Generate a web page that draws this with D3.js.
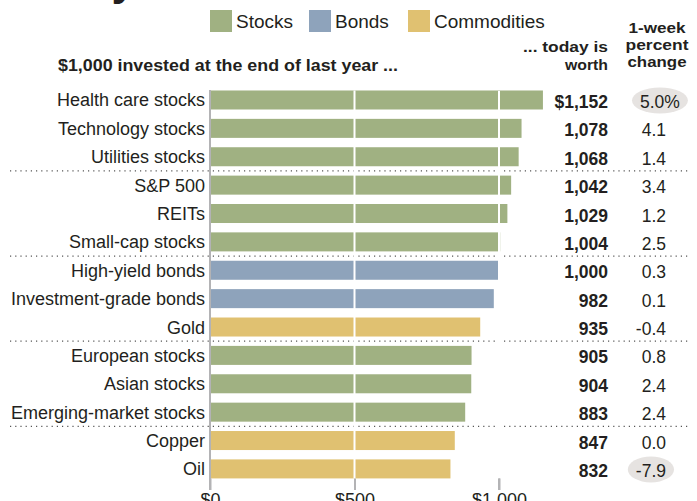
<!DOCTYPE html>
<html>
<head>
<meta charset="utf-8">
<script src="https://cdnjs.cloudflare.com/ajax/libs/d3/7.8.5/d3.min.js"></script>
<style>
  html, body { margin: 0; padding: 0; background: #fff; }
  svg { display: block; }
  text { font-family: "Liberation Sans", Arial, Helvetica, sans-serif; fill: #231f20; }
</style>
</head>
<body>
<svg id="chart" width="697" height="501"></svg>
<script>
// Growth of $1,000 by asset class
const categories = [
  "Health care stocks", "Technology stocks", "Utilities stocks",
  "S&P 500", "REITs", "Small-cap stocks",
  "High-yield bonds", "Investment-grade bonds", "Gold",
  "European stocks", "Asian stocks", "Emerging-market stocks",
  "Copper", "Oil"
];
const assetClass = [
  "Stocks", "Stocks", "Stocks",
  "Stocks", "Stocks", "Stocks",
  "Bonds", "Bonds", "Commodities",
  "Stocks", "Stocks", "Stocks",
  "Commodities", "Commodities"
];
const worth = [1152, 1078, 1068, 1042, 1029, 1004, 1000, 982, 935, 905, 904, 883, 847, 832];
const weekChange = [5.0, 4.1, 1.4, 3.4, 1.2, 2.5, 0.3, 0.1, -0.4, 0.8, 2.4, 2.4, 0.0, -7.9];
const legendItems = ["Stocks", "Bonds", "Commodities"];
const dividerAfter = ["Utilities stocks", "Small-cap stocks", "Gold", "Emerging-market stocks"];
const circled = ["Health care stocks", "Oil"];
const tickValues = [0, 500, 1000];

// plain hyphen for negative numbers
const locale = d3.formatLocale({ decimal: ".", thousands: ",", grouping: [3], currency: ["$", ""], minus: "-" });
const fmtComma = locale.format(",");
const fmtPct = locale.format(".1f");

const colors = d3.scaleOrdinal()
  .domain(legendItems)
  .range(["#a0b182", "#8ea3bb", "#e0c171"]);

const svg = d3.select("#chart");

const x = d3.scaleLinear().domain([0, 1000]).range([210, 499]);
const y = d3.scaleBand()
  .domain(categories)
  .range([85.8, 483.1])
  .paddingInner(0.33)
  .paddingOuter(0.165);

const rows = categories.map((c, i) => ({
  name: c, cls: assetClass[i], worth: worth[i], change: weekChange[i], i
}));

// Headline (runs off the top edge)
svg.append("text")
  .attr("x", 136).attr("y", -5)
  .attr("text-anchor", "end")
  .style("font-size", "44px").style("font-weight", "bold")
  .text("Rally");

// Legend
const lg = svg.append("g");
const legendX = [210, 309, 408];
legendItems.forEach((k, i) => {
  lg.append("rect")
    .attr("x", legendX[i]).attr("y", 10)
    .attr("width", 22).attr("height", 22)
    .attr("fill", colors(k));
  lg.append("text")
    .attr("x", legendX[i] + 26).attr("y", 28)
    .style("font-size", "19px")
    .text(k);
});

// Column headers
const head = svg.append("g").style("font-weight", "bold").style("font-size", "15.5px");
head.append("text").attr("x", 58).attr("y", 71)
  .style("font-size", "16.5px")
  .attr("textLength", 340).attr("lengthAdjust", "spacingAndGlyphs")
  .text("$1,000 invested at the end of last year ...");
head.append("text").attr("x", 608).attr("y", 52).attr("text-anchor", "end")
  .attr("textLength", 85).attr("lengthAdjust", "spacingAndGlyphs")
  .text("... today is");
head.append("text").attr("x", 608).attr("y", 70).attr("text-anchor", "end")
  .attr("textLength", 43).attr("lengthAdjust", "spacingAndGlyphs")
  .text("worth");
[["1-week", 33, 57], ["percent", 50, 63], ["change", 67, 59]].forEach(([t, yy, w]) => {
  head.append("text").attr("x", 657).attr("y", yy).attr("text-anchor", "middle")
    .attr("textLength", w).attr("lengthAdjust", "spacingAndGlyphs")
    .text(t);
});

// Group dividers
svg.append("g").selectAll("line")
  .data(dividerAfter)
  .join("line")
  .attr("x1", 10).attr("x2", 690)
  .attr("y1", d => y(d) + y.bandwidth() + (y.step() - y.bandwidth()) / 2)
  .attr("y2", d => y(d) + y.bandwidth() + (y.step() - y.bandwidth()) / 2)
  .attr("stroke", "#555")
  .attr("stroke-width", 1.2)
  .attr("stroke-dasharray", "1.2,4");

// Full-height reference lines at $0 and $1,000
const chartTop = 90, chartBottom = 490;
svg.append("g").selectAll("line")
  .data([0, 1000])
  .join("line")
  .attr("x1", d => x(d)).attr("x2", d => x(d))
  .attr("y1", chartTop).attr("y2", chartBottom)
  .attr("stroke", "#b3b3b5").attr("stroke-width", 2);

// Bars
svg.append("g").selectAll("rect")
  .data(rows)
  .join("rect")
  .attr("x", x(0) + 1)
  .attr("y", d => y(d.name))
  .attr("width", d => x(d.worth) - x(0) - 1)
  .attr("height", y.bandwidth())
  .attr("fill", d => colors(d.cls));

// White gridlines across the bars
const lastBarBottom = y(categories[categories.length - 1]) + y.bandwidth();
svg.append("g").selectAll("line")
  .data([500, 1000])
  .join("line")
  .attr("x1", d => x(d)).attr("x2", d => x(d))
  .attr("y1", y(categories[0])).attr("y2", lastBarBottom)
  .attr("stroke", "#fff").attr("stroke-width", 2);

// Bottom axis
const axis = d3.axisBottom(x)
  .tickValues(tickValues)
  .tickSize(chartBottom - lastBarBottom)
  .tickFormat(d => "$" + fmtComma(d));
const ax = svg.append("g")
  .attr("transform", `translate(0,${lastBarBottom})`)
  .call(axis);
ax.select(".domain").remove();
ax.selectAll(".tick line").attr("stroke", "#b3b3b5").attr("stroke-width", 2);
ax.selectAll(".tick text")
  .attr("y", 506 - lastBarBottom).attr("dy", 0)
  .style("font-size", "18px")
  .style("font-family", "'Liberation Sans', Arial, sans-serif")
  .attr("fill", "#231f20");

// Category labels
svg.append("g").selectAll("text")
  .data(rows)
  .join("text")
  .attr("x", 205)
  .attr("y", d => y(d.name) + y.bandwidth() / 2 + 6.5)
  .attr("text-anchor", "end")
  .style("font-size", "18px")
  .text(d => d.name);

// Today's worth column
svg.append("g").selectAll("text")
  .data(rows)
  .join("text")
  .attr("x", 608)
  .attr("y", d => y(d.name) + y.bandwidth() / 2 + 8)
  .attr("text-anchor", "end")
  .style("font-size", "17.5px").style("font-weight", "bold")
  .text(d => (d.i === 0 ? "$" : "") + fmtComma(d.worth));

// Weekly change column, with ovals behind the extremes
const chg = svg.append("g");
const ovals = chg.append("g");
const chgText = chg.selectAll("text")
  .data(rows)
  .join("text")
  .attr("x", 666)
  .attr("y", d => y(d.name) + y.bandwidth() / 2 + 8)
  .style("font-size", "17.5px")
  .attr("text-anchor", "end");
chgText.append("tspan").text(d => fmtPct(d.change));
chgText.filter(d => d.i === 0).append("tspan").text("%");
chgText.filter(d => d.i === 0).attr("text-anchor", "start").attr("x", 640);

chgText.filter(d => circled.includes(d.name)).each(function(d) {
  const b = this.getBBox();
  ovals.append("ellipse")
    .attr("cx", b.x + b.width / 2)
    .attr("cy", y(d.name) + y.bandwidth() / 2 + 0.5)
    .attr("rx", b.width / 2 + 8)
    .attr("ry", 13)
    .attr("fill", "#e6e3e1");
});
</script>
</body>
</html>
